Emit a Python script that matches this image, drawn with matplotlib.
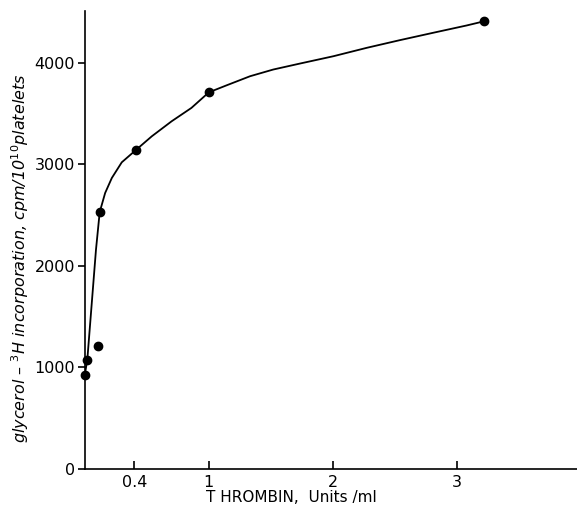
import matplotlib
matplotlib.use("Agg")
import matplotlib.pyplot as plt

# measured points (thrombin units/ml, cpm / 10^10 platelets)
thrombin = [0.0, 0.02, 0.11, 0.12, 0.41, 1.0, 3.22]
glycerol = [930, 1075, 1215, 2530, 3140, 3710, 4410]

# hand-drawn curve through the points
curve_x = [0.0, 0.02, 0.09, 0.12, 0.164, 0.218, 0.298, 0.41, 0.54, 0.70,
           0.86, 1.0, 1.145, 1.333, 1.52, 1.736, 2.005, 2.275, 2.54, 2.81,
           3.08, 3.22]
curve_y = [930, 1075, 2160, 2530, 2719, 2867, 3021, 3140, 3277, 3425,
           3557, 3710, 3780, 3869, 3935, 3994, 4066, 4149, 4224, 4297,
           4369, 4410]

xticks = [0.4, 1, 2, 3]
xticklabels = ["0.4", "1", "2", "3"]
yticks = [0, 1000, 2000, 3000, 4000]

plt.rcParams["font.family"] = "DejaVu Sans"
plt.rcParams["mathtext.default"] = "it"

fig = plt.figure(figsize=(5.77, 5.07), dpi=100)
ax = fig.add_axes([0.147, 0.075, 0.853, 0.903])

ax.plot(curve_x, curve_y, "k-", lw=1.3)
ax.plot(thrombin, glycerol, "ko", ms=6, clip_on=False)

ax.set_xlim(0, 3.97)
ax.set_ylim(0, 4510)
ax.spines["top"].set_visible(False)
ax.spines["right"].set_visible(False)
for s in ("left", "bottom"):
    ax.spines[s].set_linewidth(1.2)

ax.set_xticks(xticks)
ax.set_xticklabels(xticklabels)
ax.set_yticks(yticks)
ax.tick_params(axis="x", direction="in", length=6, width=1.2, labelsize=11.5, pad=4)
ax.tick_params(axis="y", direction="out", length=5, width=1.2, labelsize=11.5, pad=2)

ax.set_xlabel("T HROMBIN,  Units /ml", fontsize=11)
ax.xaxis.set_label_coords(0.42, -0.047)
ax.set_ylabel(r"glycerol – $^{3}$H incorporation, cpm/10$^{10}$platelets",
              fontsize=11.5, style="italic")
ax.yaxis.set_label_coords(-0.11, 0.46)

fig.savefig("out.png", dpi=100)
